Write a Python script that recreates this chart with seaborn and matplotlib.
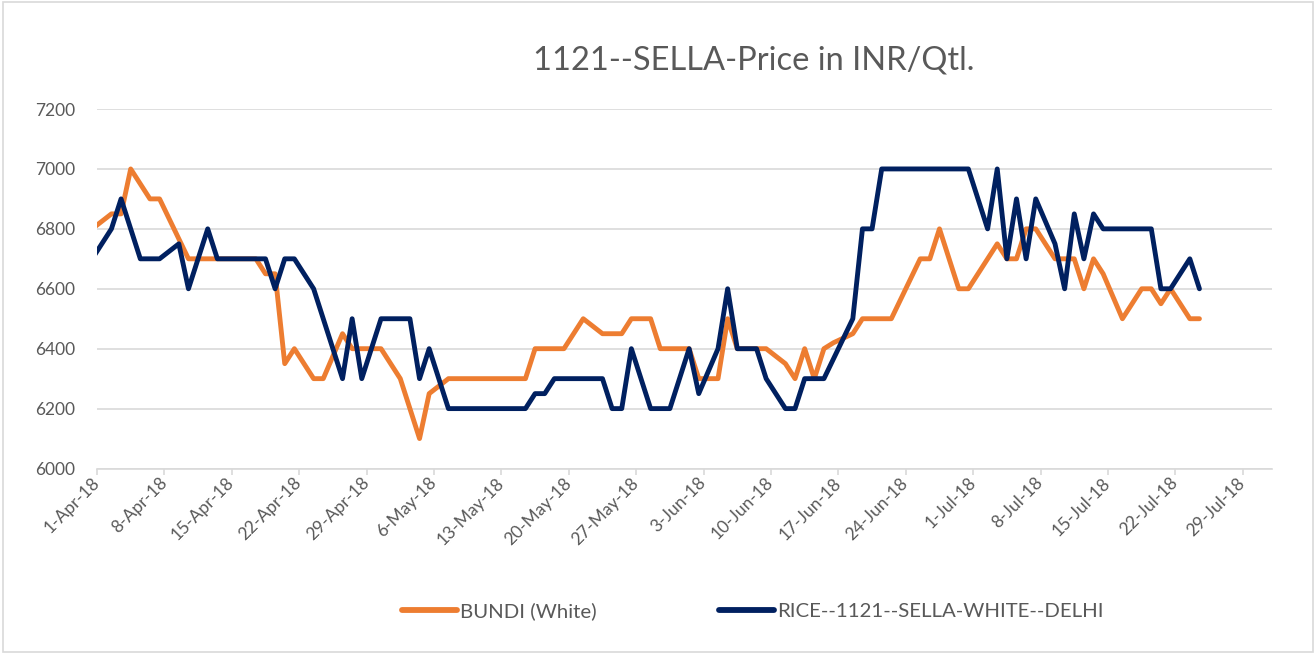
import matplotlib
matplotlib.use("Agg")
import matplotlib.pyplot as plt
import matplotlib.dates as mdates
import pandas as pd
import seaborn as sns
from matplotlib.patches import Rectangle

# values (Sundays have no quote)
bundi_dates = [
    "2018-03-31", "2018-04-02", "2018-04-03", "2018-04-04", "2018-04-06", "2018-04-07",
    "2018-04-10", "2018-04-17", "2018-04-18", "2018-04-19", "2018-04-20", "2018-04-21",
    "2018-04-23", "2018-04-24", "2018-04-26", "2018-04-27", "2018-04-30", "2018-05-02",
    "2018-05-04", "2018-05-05", "2018-05-07", "2018-05-15", "2018-05-16", "2018-05-19",
    "2018-05-21", "2018-05-23", "2018-05-25", "2018-05-26", "2018-05-28", "2018-05-29",
    "2018-06-01", "2018-06-02", "2018-06-04", "2018-06-05", "2018-06-06", "2018-06-09",
    "2018-06-11", "2018-06-12", "2018-06-13", "2018-06-14", "2018-06-15", "2018-06-16",
    "2018-06-18", "2018-06-19", "2018-06-22", "2018-06-25", "2018-06-26", "2018-06-27",
    "2018-06-29", "2018-06-30", "2018-07-03", "2018-07-04", "2018-07-05", "2018-07-06",
    "2018-07-07", "2018-07-09", "2018-07-11", "2018-07-12", "2018-07-13", "2018-07-14",
    "2018-07-16", "2018-07-18", "2018-07-19", "2018-07-20", "2018-07-21", "2018-07-23",
    "2018-07-24",
]
bundi_price = [
    6800, 6850, 6850, 7000, 6900, 6900,
    6700, 6700, 6650, 6650, 6350, 6400,
    6300, 6300, 6450, 6400, 6400, 6300,
    6100, 6250, 6300, 6300, 6400, 6400,
    6500, 6450, 6450, 6500, 6500, 6400,
    6400, 6300, 6300, 6500, 6400, 6400,
    6350, 6300, 6400, 6300, 6400, 6420,
    6450, 6500, 6500, 6700, 6700, 6800,
    6600, 6600, 6750, 6700, 6700, 6800,
    6800, 6700, 6700, 6600, 6700, 6650,
    6500, 6600, 6600, 6550, 6600, 6500,
    6500,
]

delhi_dates = [
    "2018-03-31", "2018-04-02", "2018-04-03", "2018-04-05", "2018-04-07", "2018-04-09",
    "2018-04-10", "2018-04-12", "2018-04-13", "2018-04-18", "2018-04-19", "2018-04-20",
    "2018-04-21", "2018-04-23", "2018-04-26", "2018-04-27", "2018-04-28", "2018-04-30",
    "2018-05-03", "2018-05-04", "2018-05-05", "2018-05-07", "2018-05-15", "2018-05-16",
    "2018-05-17", "2018-05-18", "2018-05-23", "2018-05-24", "2018-05-25", "2018-05-26",
    "2018-05-28", "2018-05-30", "2018-06-01", "2018-06-02", "2018-06-04", "2018-06-05",
    "2018-06-06", "2018-06-08", "2018-06-09", "2018-06-11", "2018-06-12", "2018-06-13",
    "2018-06-15", "2018-06-18", "2018-06-19", "2018-06-20", "2018-06-21", "2018-06-30",
    "2018-07-02", "2018-07-03", "2018-07-04", "2018-07-05", "2018-07-06", "2018-07-07",
    "2018-07-09", "2018-07-10", "2018-07-11", "2018-07-12", "2018-07-13", "2018-07-14",
    "2018-07-19", "2018-07-20", "2018-07-21", "2018-07-23", "2018-07-24",
]
delhi_price = [
    6700, 6800, 6900, 6700, 6700, 6750,
    6600, 6800, 6700, 6700, 6600, 6700,
    6700, 6600, 6300, 6500, 6300, 6500,
    6500, 6300, 6400, 6200, 6200, 6250,
    6250, 6300, 6300, 6200, 6200, 6400,
    6200, 6200, 6400, 6250, 6400, 6600,
    6400, 6400, 6300, 6200, 6200, 6300,
    6300, 6500, 6800, 6800, 7000, 7000,
    6800, 7000, 6700, 6900, 6700, 6900,
    6750, 6600, 6850, 6700, 6850, 6800,
    6800, 6600, 6600, 6700, 6600,
]

series_names = ["BUNDI (White)", "RICE--1121--SELLA-WHITE--DELHI"]
series_colors = ["#ED7D31", "#002060"]
y_ticks = [6000, 6200, 6400, 6600, 6800, 7000, 7200]
title = "1121--SELLA-Price in INR/Qtl."

df = pd.concat(
    [
        pd.DataFrame({"date": pd.to_datetime(bundi_dates), "price": bundi_price, "series": series_names[0]}),
        pd.DataFrame({"date": pd.to_datetime(delhi_dates), "price": delhi_price, "series": series_names[1]}),
    ],
    ignore_index=True,
)
# Excel date axis puts each point in the middle of its day slot
df["plot_date"] = df["date"] + pd.Timedelta(hours=12)

sns.set_theme(style="white")
plt.rcParams["font.family"] = ["Lato", "DejaVu Sans"]
grey = "#595959"
grid = "#d9d9d9"

fig = plt.figure(figsize=(13.16, 6.54), dpi=100)
ax = fig.add_axes([0.0737, 0.2836, 0.8926, 0.5497])

sns.lineplot(
    data=df, x="plot_date", y="price", hue="series", hue_order=series_names,
    palette=series_colors, linewidth=3.5, estimator=None, ax=ax, legend=True,
)

ax.set_xlim(pd.Timestamp("2018-04-01"), pd.Timestamp("2018-08-01"))
ax.set_ylim(6000, 7200)
ax.set_yticks(y_ticks)
ax.set_xticks(pd.date_range("2018-04-01", "2018-07-29", freq="7D"))
ax.xaxis.set_major_formatter(mdates.DateFormatter("%-d-%b-%y"))
ax.yaxis.grid(True, color=grid, linewidth=1.2)
ax.xaxis.grid(False)
ax.set_axisbelow(True)
for s in ["left", "right", "top"]:
    ax.spines[s].set_visible(False)
ax.spines["bottom"].set_color(grid)
ax.spines["bottom"].set_linewidth(1.2)
ax.tick_params(axis="x", bottom=True, length=4.5, width=1.2, color=grid, pad=4, labelsize=12.5, labelcolor=grey)
ax.tick_params(axis="y", left=False, length=0, pad=16, labelsize=12.5, labelcolor=grey)
for lab in ax.get_xticklabels():
    lab.set_rotation(45)
    lab.set_ha("right")
    lab.set_va("center")
    lab.set_rotation_mode("anchor")
ax.set_xlabel("")
ax.set_ylabel("")

handles, labels = ax.get_legend_handles_labels()
ax.get_legend().remove()
leg = fig.legend(
    handles, labels, loc="center", bbox_to_anchor=(0.572, 0.066), ncol=2, frameon=False,
    fontsize=14.7, handlelength=2.7, handletextpad=0.15, columnspacing=6.0, labelcolor=grey,
)
for line in leg.get_lines():
    line.set_linewidth(4.2)
    line.set_solid_capstyle("round")

fig.text(0.573, 0.908, title, ha="center", va="center", fontsize=23.5, color=grey)
fig.patches.append(
    Rectangle((0.002, 0.003), 0.996, 0.994, transform=fig.transFigure, fill=False, edgecolor=grid, linewidth=1.2)
)

fig.savefig("out.png", dpi=100)
plt.close(fig)
